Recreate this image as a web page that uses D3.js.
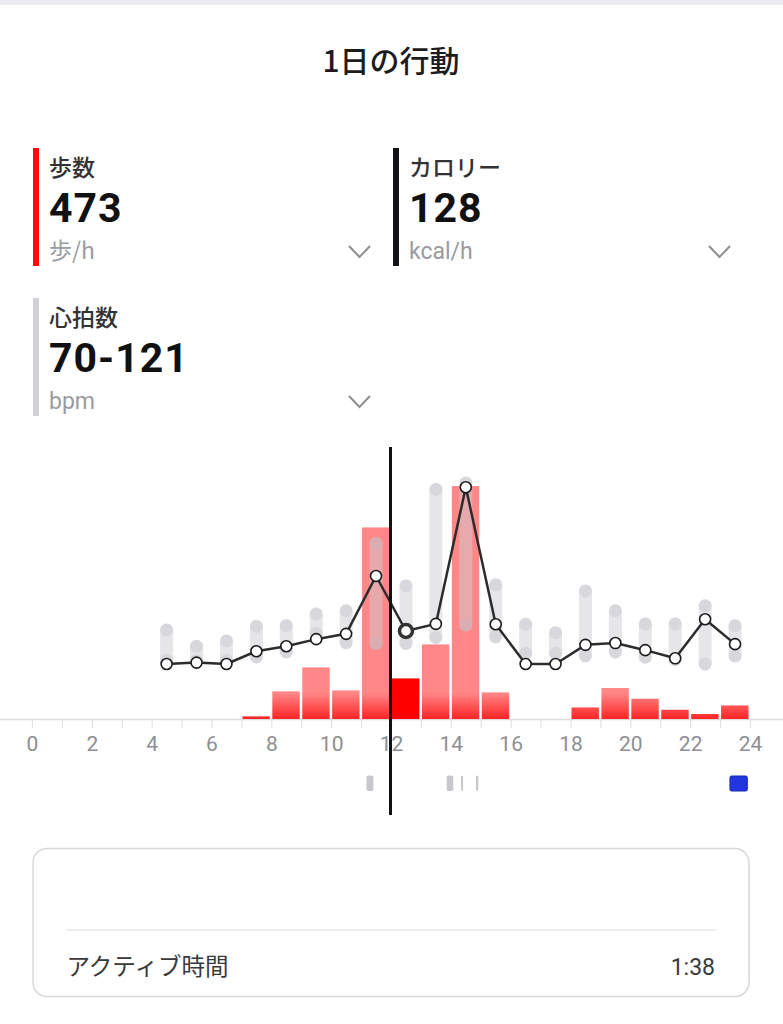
<!DOCTYPE html>
<html><head><meta charset="utf-8">
<script src="https://cdn.jsdelivr.net/npm/d3@7"></script>
<style>
html,body{margin:0;padding:0;background:#fff;}
svg{display:block;}
</style></head>
<body>
<svg id="c" width="783" height="1024"></svg>
<script>
// ---- data ----
const title = "1日の行動";
const statLabels = ["歩数", "カロリー", "心拍数"];
const statValues = ["473", "128", "70-121"];
const statUnits = ["歩/h", "kcal/h", "bpm"];
const statColors = ["#ff0a0a", "#141416", "#d1d1d6"];

const hours = d3.range(24);
const steps = [0,0,0,0,0,0,0,31,322,601,333,2232,473,869,2714,310,0,0,135,361,236,108,58,158];
const selectedHour = 12;

const hrHours = [4,5,6,7,8,9,10,11,12,13,14,15,16,17,18,19,20,21,22,23];
const hrValue = [70,70.4,70,73.6,75,77,78.5,94.8,79.3,81.3,119.8,81.2,70,70,75.4,75.9,73.9,71.6,82.6,75.6];
const hrMin   = [71,71,71,72,73.4,78.6,76,75.8,75.8,77.5,81,77.7,73,73,72.3,73.4,71.9,71.3,70,72.3];
const hrMax   = [79.6,75,76.5,80.6,80.8,84.1,85,104,92,119.2,121,92.3,81.2,78.8,90.6,85,81.3,81.3,86.4,80.8];

const tickLabels = [0,2,4,6,8,10,12,14,16,18,20,22,24];
const markerStart = [11.18,13.86,14.34,14.84,23.33];
const markerEnd   = [11.41,14.08,14.41,14.92,23.91];
const markerType  = ["grey","grey","grey","grey","blue"];

const activeLabel = "アクティブ時間";
const activeValue = "1:38";

// ---- drawing ----
const svg = d3.select("#c");
const JP = "'Noto Sans CJK JP','Noto Sans',sans-serif";
const NUM = "Roboto,'Liberation Sans',sans-serif";

svg.append("rect").attr("x",0).attr("y",0).attr("width",783).attr("height",5).attr("fill","#ececf0");

svg.append("text").attr("x",391).attr("y",72).attr("text-anchor","middle")
  .attr("font-family",JP).attr("font-weight",500).attr("font-size",30).attr("fill","#1c1c1e").text(title);

// stat blocks
const blockPos = [[33,148],[393,148],[33,298]];
statLabels.forEach((lab,i)=>{
  const [bx,by] = blockPos[i];
  const g = svg.append("g").attr("transform",`translate(${bx},${by})`);
  g.append("rect").attr("x",0).attr("y",0).attr("width",6).attr("height",118).attr("fill",statColors[i]);
  g.append("text").attr("x",16).attr("y",28).attr("font-family",JP).attr("font-weight",500)
    .attr("font-size",23).attr("fill","#333336").text(lab);
  g.append("text").attr("x",16).attr("y",73.5).attr("font-family",NUM).attr("font-weight",700)
    .attr("font-size",41).attr("letter-spacing",1).attr("fill","#111").text(statValues[i]);
  g.append("text").attr("x",16).attr("y",111).attr("font-family",i===0?JP:NUM)
    .attr("font-size",23).attr("fill","#9a9aa0").text(statUnits[i]);
  g.append("polyline").attr("points","316,98 326.5,109 337,98").attr("fill","none")
    .attr("stroke","#8e8e93").attr("stroke-width",2);
});

// scales
const x = d3.scaleLinear().domain([0,24]).range([32,750]);
const yS = d3.scaleLinear().domain([0,3000]).range([719,461.5]);
const yH = d3.scaleLinear().domain([70,121]).range([664,483]);

const defs = svg.append("defs");
const grad = defs.append("linearGradient").attr("id","barGrad")
  .attr("gradientUnits","userSpaceOnUse").attr("x1",0).attr("x2",0).attr("y1",693).attr("y2",719);
grad.append("stop").attr("offset",0).attr("stop-color","#ff8787");
grad.append("stop").attr("offset",1).attr("stop-color","#ff2424");

// axis
const axisG = svg.append("g").attr("transform","translate(0,719.5)");
const axis = d3.axisBottom(x).tickValues(d3.range(25)).tickSize(9).tickPadding(8)
  .tickFormat(d => tickLabels.includes(d) ? d : "");
axisG.call(axis);
axisG.select(".domain").remove();
axisG.insert("line",":first-child").attr("x1",0).attr("x2",783).attr("y1",0).attr("y2",0)
  .attr("stroke","#dcdcde").attr("stroke-width",1.5);
axisG.selectAll(".tick line").attr("stroke","#e2e2e4").attr("stroke-width",1.2);
axisG.selectAll(".tick text").attr("font-family",NUM).attr("font-size",21).attr("fill","#8e8e93")
  .attr("dy","0.71em");

// bars
svg.append("g").selectAll("rect").data(hours.filter(h=>steps[h]>0)).join("rect")
  .attr("x",h=>x(h)+1).attr("width",h=>x(h+1)-x(h)-2.5)
  .attr("y",h=>yS(steps[h])).attr("height",h=>719-yS(steps[h]))
  .attr("fill",h=>h===selectedHour?"#ff0000":"url(#barGrad)");

// heart rate capsules
const cap = svg.append("g");
hrHours.forEach((h,i)=>{
  const cx = x(h+0.5), yt = yH(hrMax[i]), yb = yH(hrMin[i]), r = 6.5;
  cap.append("rect").attr("x",cx-r).attr("y",yt-r).attr("width",2*r).attr("height",yb-yt+2*r)
    .attr("rx",r).attr("fill","rgba(205,205,212,0.5)");
  cap.append("circle").attr("cx",cx).attr("cy",yt).attr("r",r).attr("fill","rgba(185,185,192,0.3)");
  cap.append("circle").attr("cx",cx).attr("cy",yb).attr("r",r).attr("fill","rgba(185,185,192,0.3)");
});

// heart rate line
const line = d3.line().x((d,i)=>x(hrHours[i]+0.5)).y(d=>yH(d));
svg.append("path").datum(hrValue).attr("d",line).attr("fill","none")
  .attr("stroke","#2c2c2e").attr("stroke-width",2.5).attr("stroke-linejoin","round");
svg.append("g").selectAll("circle").data(hrValue).join("circle")
  .attr("cx",(d,i)=>x(hrHours[i]+0.5)).attr("cy",d=>yH(d))
  .attr("r",(d,i)=>hrHours[i]===selectedHour?6.5:5.5)
  .attr("fill","#fff").attr("stroke",(d,i)=>hrHours[i]===selectedHour?"#333":"#1c1c1e")
  .attr("stroke-width",(d,i)=>hrHours[i]===selectedHour?3.5:1.6);

// markers
svg.append("g").selectAll("rect").data(markerStart).join("rect")
  .attr("x",(d,i)=>x(d)).attr("width",(d,i)=>x(markerEnd[i])-x(d))
  .attr("y",(d,i)=>markerType[i]==="blue"?776:775.5).attr("height",(d,i)=>markerType[i]==="blue"?15:15.5)
  .attr("rx",(d,i)=>markerType[i]==="blue"?1.5:2)
  .attr("fill",(d,i)=>markerType[i]==="blue"?"#2236e0":"#c7c7cc")
  .attr("stroke",(d,i)=>markerType[i]==="blue"?"#1a2ab5":"none").attr("stroke-width",1);

// selection line
svg.append("line").attr("x1",x(selectedHour)-0.5).attr("x2",x(selectedHour)-0.5)
  .attr("y1",447).attr("y2",815).attr("stroke","#111").attr("stroke-width",3);

// bottom card
svg.append("rect").attr("x",33).attr("y",848.5).attr("width",716).attr("height",148).attr("rx",14)
  .attr("fill","#fff").attr("stroke","#d8d8dc").attr("stroke-width",1.5);
svg.append("line").attr("x1",66.5).attr("x2",716.5).attr("y1",930).attr("y2",930)
  .attr("stroke","#e8e8ec").attr("stroke-width",1.5);
svg.append("text").attr("x",66.5).attr("y",975).attr("font-family",JP).attr("font-size",23.5)
  .attr("fill","#3a3a3c").text(activeLabel);
svg.append("text").attr("x",715).attr("y",975).attr("text-anchor","end").attr("font-family",NUM)
  .attr("font-size",23).attr("fill","#3a3a3c").text(activeValue);
</script>
</body></html>
